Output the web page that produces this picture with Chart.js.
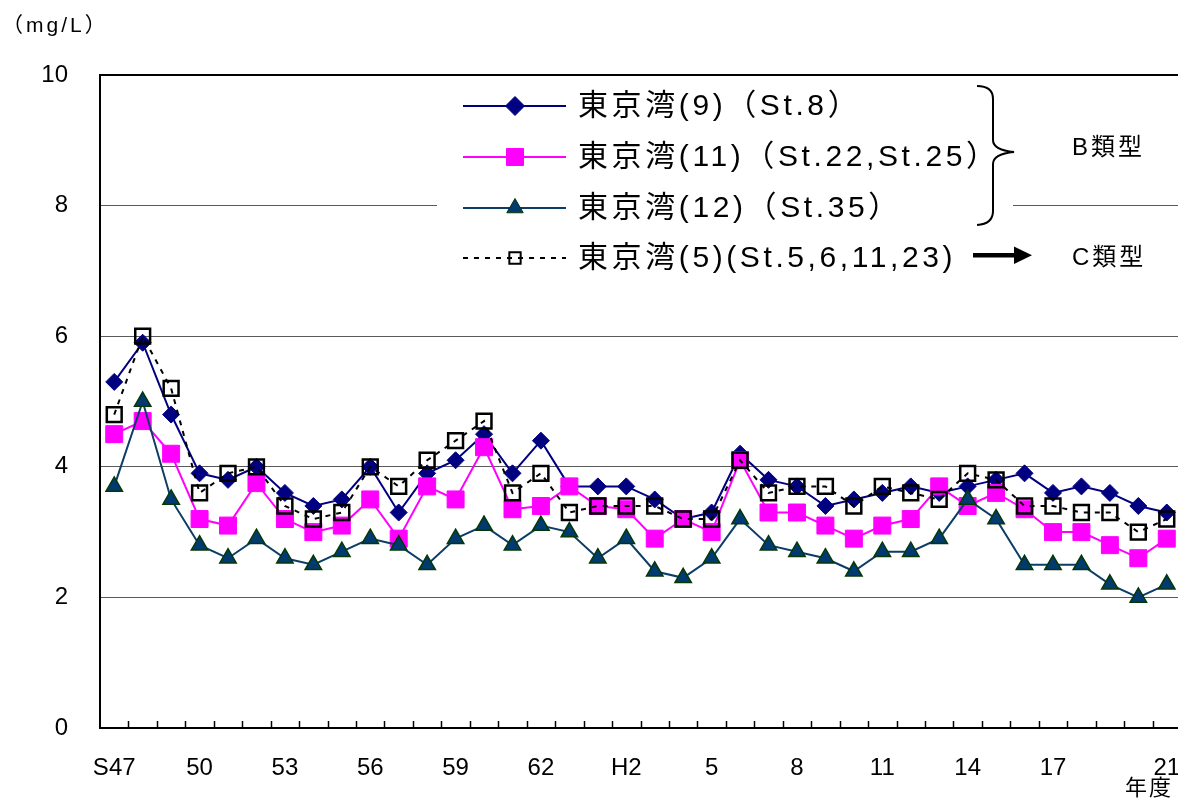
<!DOCTYPE html>
<html lang="ja">
<head>
<meta charset="utf-8">
<title>東京湾 COD 経年変化</title>
<script src="https://cdn.jsdelivr.net/npm/chart.js@4.4.1/dist/chart.umd.min.js"></script>
<style>
  html, body { margin: 0; padding: 0; background: #fff; overflow: hidden; }
  #wrap { position: relative; width: 1181px; height: 801px; }
</style>
</head>
<body>
<div id="wrap"><canvas id="c" width="1181" height="801"></canvas></div>
<script>
// 年度 (S47〜H21)
const years = [
  'S47','S48','S49','S50','S51','S52','S53','S54','S55','S56','S57','S58','S59','S60','S61','S62','S63',
  'H1','H2','H3','H4','H5','H6','H7','H8','H9','H10','H11','H12','H13','H14','H15','H16','H17','H18','H19','H20','H21'
];
// 軸に表示する年度ラベル
const tickLabels = [
  'S47','','','50','','','53','','','56','','','59','','','62','','',
  'H2','','','5','','','8','','','11','','','14','','','17','','','','21'
];
const yTicks = [0, 2, 4, 6, 8, 10];

// COD (mg/L)
const tokyo9 = [5.3,5.9,4.8,3.9,3.8,4.0,3.6,3.4,3.5,4.0,3.3,3.9,4.1,4.5,3.9,4.4,3.7,3.7,3.7,3.5,
                3.2,3.3,4.2,3.8,3.7,3.4,3.5,3.6,3.7,3.6,3.7,3.8,3.9,3.6,3.7,3.6,3.4,3.3];
const tokyo11 = [4.5,4.7,4.2,3.2,3.1,3.75,3.2,3.0,3.1,3.5,2.9,3.7,3.5,4.3,3.35,3.4,3.7,3.4,3.35,2.9,
                 3.2,3.0,4.1,3.3,3.3,3.1,2.9,3.1,3.2,3.7,3.4,3.6,3.35,3.0,3.0,2.8,2.6,2.9];
const tokyo12 = [3.7,5.0,3.5,2.8,2.6,2.9,2.6,2.5,2.7,2.9,2.8,2.5,2.9,3.1,2.8,3.1,3.0,2.6,2.9,2.4,
                 2.3,2.6,3.2,2.8,2.7,2.6,2.4,2.7,2.7,2.9,3.5,3.2,2.5,2.5,2.5,2.2,2.0,2.2];
const tokyo5 = [4.8,6.0,5.2,3.6,3.9,4.0,3.4,3.2,3.3,4.0,3.7,4.1,4.4,4.7,3.6,3.9,3.3,3.4,3.4,3.4,
                3.2,3.2,4.1,3.6,3.7,3.7,3.4,3.7,3.6,3.5,3.9,3.8,3.4,3.4,3.3,3.3,3.0,3.2];

const seriesLabels = [
  '東京湾(9)（St.8）',
  '東京湾(11)（St.22,St.25）',
  '東京湾(12)（St.35）',
  '東京湾(5)(St.5,6,11,23)'
];
const unitLabel = '（mg/L）';
const xTitle = '年度';
const typeB = 'B類型';
const typeC = 'C類型';

const LATIN_CJK = '"Liberation Sans", "Noto Sans CJK JP", Arial, sans-serif';

function setSpacing(ctx, px) {
  if ('letterSpacing' in ctx) ctx.letterSpacing = px + 'px';
}

// legend marker shapes
function drawMarker(ctx, style, x, y, r, fill, stroke, bw) {
  ctx.save();
  ctx.beginPath();
  if (style === 'rectRot') {
    ctx.moveTo(x - r, y); ctx.lineTo(x, y - r); ctx.lineTo(x + r, y); ctx.lineTo(x, y + r);
  } else if (style === 'rect') {
    const s = r * Math.SQRT1_2;
    ctx.rect(x - s, y - s, 2 * s, 2 * s);
  } else if (style === 'triangle') {
    ctx.moveTo(x, y - r);
    ctx.lineTo(x + r * 0.866, y + r * 0.5);
    ctx.lineTo(x - r * 0.866, y + r * 0.5);
  }
  ctx.closePath();
  ctx.fillStyle = fill;
  ctx.fill();
  if (bw > 0) { ctx.lineWidth = bw; ctx.strokeStyle = stroke; ctx.stroke(); }
  ctx.restore();
}

const decorations = {
  id: 'decorations',
  afterDraw(chart) {
    const ctx = chart.ctx;
    const xs = chart.scales.x;
    const area = chart.chartArea;
    const step = xs.getPixelForValue(1) - xs.getPixelForValue(0);

    // tick marks on the category boundaries, pointing up into the plot
    ctx.save();
    ctx.strokeStyle = '#000';
    ctx.lineWidth = 1.5;
    for (let i = 1; i <= years.length; i++) {
      const px = Math.round(xs.getPixelForValue(i - 1) + step / 2) + 0.5;
      ctx.beginPath();
      ctx.moveTo(px, area.bottom);
      ctx.lineTo(px, area.bottom - 7);
      ctx.stroke();
    }
    ctx.restore();

    // unit label and x title
    ctx.save();
    ctx.fillStyle = '#000';
    ctx.font = '21px ' + LATIN_CJK;
    ctx.textBaseline = 'middle';
    setSpacing(ctx, 3);
    ctx.textAlign = 'left';
    ctx.fillText(unitLabel, 2, 26);
    ctx.font = '22px ' + LATIN_CJK;
    setSpacing(ctx, 2);
    ctx.textAlign = 'right';
    ctx.fillText(xTitle, 1173, 789);
    ctx.restore();

    // legend panel
    ctx.save();
    ctx.fillStyle = '#fff';
    ctx.fillRect(437, 79, 576, 203);
    const rows = [106, 157, 208, 258];
    chart.data.datasets.forEach((ds, i) => {
      const y = rows[i];
      ctx.save();
      ctx.strokeStyle = ds.borderColor;
      ctx.lineWidth = 2;
      if (ds.borderDash) ctx.setLineDash(ds.borderDash);
      ctx.beginPath();
      ctx.moveTo(463, y);
      ctx.lineTo(566, y);
      ctx.stroke();
      ctx.restore();
      const legendR = ds.pointStyle === 'rect' && i === 3 ? 8 : (ds.pointStyle === 'rect' ? 12 : 9.5);
      drawMarker(ctx, ds.pointStyle, 515, y, legendR, ds.pointBackgroundColor,
                 ds.pointBorderColor, i === 3 ? 2 : 1);
      ctx.save();
      ctx.fillStyle = '#000';
      ctx.font = '30px ' + LATIN_CJK;
      ctx.textBaseline = 'middle';
      ctx.textAlign = 'left';
      setSpacing(ctx, 3.6);
      ctx.fillText(ds.label, 578, y + 1);
      ctx.restore();
    });

    // brace grouping the B type stations
    ctx.strokeStyle = '#000';
    ctx.lineWidth = 2;
    ctx.beginPath();
    ctx.moveTo(977, 86);
    ctx.quadraticCurveTo(993, 86, 993, 99);
    ctx.lineTo(993, 140);
    ctx.quadraticCurveTo(993, 150, 1014, 152);
    ctx.quadraticCurveTo(993, 154, 993, 164);
    ctx.lineTo(993, 211);
    ctx.quadraticCurveTo(993, 224, 977, 225);
    ctx.stroke();

    // arrow to C type
    ctx.fillStyle = '#000';
    ctx.fillRect(973, 253, 44, 4.5);
    ctx.beginPath();
    ctx.moveTo(1014, 246.5);
    ctx.lineTo(1032, 255.2);
    ctx.lineTo(1014, 264);
    ctx.closePath();
    ctx.fill();

    ctx.font = '24px ' + LATIN_CJK;
    ctx.textBaseline = 'middle';
    ctx.textAlign = 'left';
    setSpacing(ctx, 3);
    ctx.fillText(typeB, 1072, 148);
    ctx.fillText(typeC, 1072, 258);
    ctx.restore();
  }
};

new Chart(document.getElementById('c'), {
  type: 'line',
  data: {
    labels: years,
    datasets: [
      {
        label: seriesLabels[0], data: tokyo9, order: 3,
        borderColor: '#000080', borderWidth: 2,
        pointStyle: 'rectRot', pointRadius: 8.5,
        pointBackgroundColor: '#000080', pointBorderColor: '#000080', pointBorderWidth: 1
      },
      {
        label: seriesLabels[1], data: tokyo11, order: 2,
        borderColor: '#ff00ff', borderWidth: 2,
        pointStyle: 'rect', pointRadius: 12,
        pointBackgroundColor: '#ff00ff', pointBorderColor: '#ff00ff', pointBorderWidth: 1
      },
      {
        label: seriesLabels[2], data: tokyo12, order: 1,
        borderColor: '#0b3d66', borderWidth: 2,
        pointStyle: 'triangle', pointRadius: 9.5,
        pointBackgroundColor: '#003a70', pointBorderColor: '#063806', pointBorderWidth: 1.5
      },
      {
        label: seriesLabels[3], data: tokyo5, order: 0,
        borderColor: '#000', borderWidth: 2, borderDash: [5, 6],
        pointStyle: 'rect', pointRadius: 10.5,
        pointBackgroundColor: 'rgba(0,0,0,0)', pointBorderColor: '#000', pointBorderWidth: 2.5
      }
    ]
  },
  options: {
    responsive: false,
    animation: false,
    events: [],
    layout: { padding: { top: 75, left: 0, right: 0, bottom: 0 }, autoPadding: false },
    elements: { line: { tension: 0 } },
    plugins: { legend: { display: false }, tooltip: { enabled: false } },
    scales: {
      x: {
        offset: true,
        grid: { display: false, drawTicks: false },
        border: { display: true, color: '#000', width: 2 },
        ticks: {
          autoSkip: false, maxRotation: 0, minRotation: 0,
          padding: 26, color: '#000',
          font: { family: 'Liberation Sans', size: 24 },
          callback: (v, i) => tickLabels[i]
        },
        afterFit: (s) => { s.height = 73; s.paddingLeft = 0; s.paddingRight = 0; }
      },
      y: {
        min: 0, max: 10,
        afterBuildTicks: (s) => { s.ticks = yTicks.map(v => ({ value: v })); },
        grid: {
          drawTicks: false,
          color: (c) => c.tick && c.tick.value === 10 ? '#000' : (c.tick && c.tick.value === 0 ? 'rgba(0,0,0,0)' : '#5a5a5a'),
          lineWidth: (c) => c.tick && c.tick.value === 10 ? 2 : 1
        },
        border: { display: true, color: '#000', width: 2 },
        ticks: {
          padding: 32, color: '#000',
          font: { family: 'Liberation Sans', size: 24 }
        },
        afterFit: (s) => { s.width = 100; s.paddingTop = 0; s.paddingBottom = 0; }
      }
    }
  },
  plugins: [decorations]
});
</script>
</body>
</html>
